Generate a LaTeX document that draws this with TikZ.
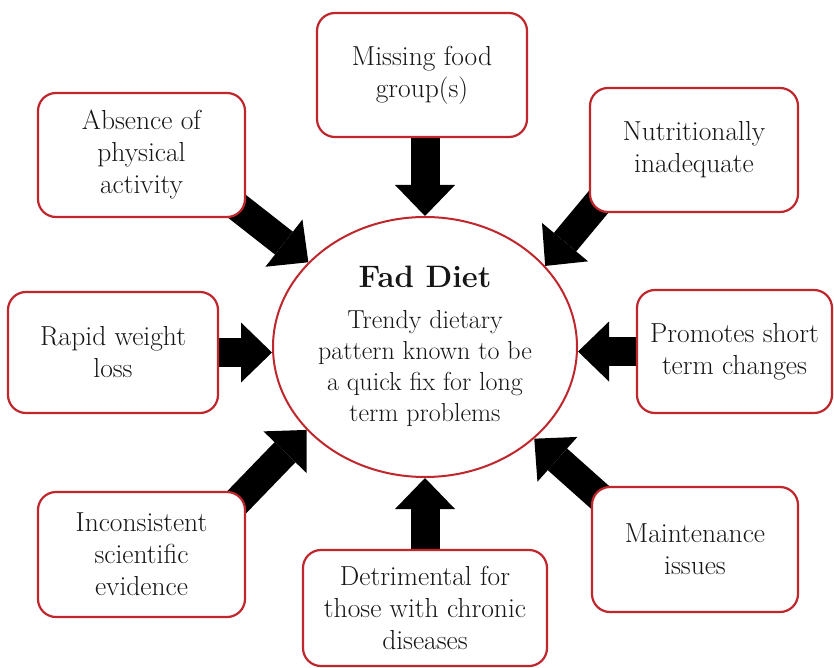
\documentclass[tikz,border=0pt]{standalone}
\usetikzlibrary{shapes.geometric,arrows.meta,backgrounds,calc}
\definecolor{boxred}{RGB}{192,39,45}
\definecolor{txt}{RGB}{22,22,22}
\begin{document}
\begin{tikzpicture}[x=1pt,y=-1pt,
  box/.style={draw=boxred, line width=2.2pt, rounded corners=18pt, fill=white,
    text=txt, align=center, font=\fontsize{27.5}{32}\selectfont, inner sep=0pt},
  bigarrow/.style={line width=29pt, black,
    -{Triangle[length=31pt,width=60pt,line width=0pt]}},
  hub/.style={ellipse, draw=boxred, line width=2pt, fill=white,
    minimum width=304pt, minimum height=260pt, inner sep=0pt},
  hubtext/.style={text=txt, align=center, font=\fontsize{26}{31}\selectfont}]
\useasboundingbox (0,0) rectangle (834,668);

% central ellipse
\node[hub] (diet) at (425,347) {};
\node[hubtext] (dietText) at (425,346)
  {{\fontsize{31}{31}\selectfont\bfseries Fad Diet}\\[10pt]Trendy dietary\\pattern known to be\\a quick fix for long\\term problems};

% surrounding boxes
\node[box, minimum width=210pt, minimum height=124pt] (miss) at (422,75) {Missing food\\group(s)};
\node[box, minimum width=207pt, minimum height=124pt] (abs) at (141.5,155) {Absence of\\physical\\activity};
\node[box, minimum width=208pt, minimum height=124pt] (nut) at (694,150) {Nutritionally\\inadequate};
\node[box, minimum width=210pt, minimum height=121pt] (rap) at (113,352.5) {Rapid weight\\loss};
\node[box, minimum width=195pt, minimum height=123pt] (pro) at (734.5,351.5) {Promotes short\\term changes};
\node[box, minimum width=207pt, minimum height=125pt] (inc) at (141.5,554.5) {Inconsistent\\scientific\\evidence};
\node[box, minimum width=244pt, minimum height=116pt] (det) at (425,608) {Detrimental for\\those with chronic\\diseases};
\node[box, minimum width=206pt, minimum height=125pt] (mai) at (695,549.5) {Maintenance\\issues};

\begin{scope}[on background layer]
  \fill[white] (0,0) rectangle (834,668);
  \draw[bigarrow] (diet.north |- miss.center) -- (diet.north);
  \draw[bigarrow] (diet.south |- det.center) -- (diet.south);
  \draw[bigarrow] (rap.center) -- (rap.center -| diet.west);
  \draw[bigarrow] (pro.center) -- (pro.center -| diet.east);
  \draw[bigarrow] ($(abs.south east)+(-12,-14)$) -- (diet.144);
  \draw[bigarrow] ($(nut.south west)+(12,-14)$) -- (diet.34);
  \draw[bigarrow] ($(inc.north east)+(-12,14)$) -- (diet.215);
  \draw[bigarrow] ($(mai.north west)+(12,14)$) -- (diet.320);
\end{scope}
\end{tikzpicture}
\end{document}
